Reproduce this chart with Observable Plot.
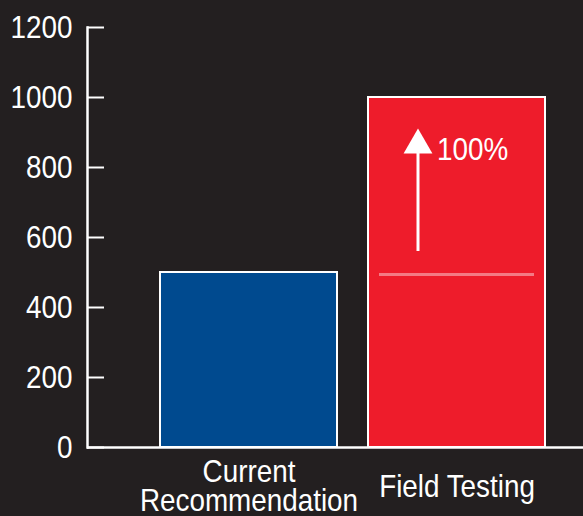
<!DOCTYPE html>
<html>
<head>
<meta charset="utf-8">
<script src="https://cdn.jsdelivr.net/npm/d3@7"></script>
<script src="https://cdn.jsdelivr.net/npm/@observablehq/plot@0.6"></script>
<style>
  html, body { margin: 0; padding: 0; background: #231f20; }
  #chart { width: 583px; height: 516px; overflow: hidden; }
</style>
</head>
<body>
<div id="chart"></div>
<script>
const categories = ["Current\nRecommendation", "Field Testing"];
const values = [500, 1000];
const barColors = ["#004a8f", "#ee1c2b"];
const yTicks = [0, 200, 400, 600, 800, 1000, 1200];
const previousLevel = 494;          // pink reference line in the Field Testing bar
const arrowFrom = 560, arrowTo = 840, arrowTip = 864; // arrow shaft start, head base, head centroid
const increaseLabel = "100%";
const labelValue = 850;

const bars = categories.map((c, i) => ({category: c, value: values[i], color: barColors[i]}));
const font = "'Liberation Sans', Arial, sans-serif";

const chart = Plot.plot({
  width: 583,
  height: 516,
  marginLeft: 87,
  marginRight: 0,
  marginTop: 27,
  marginBottom: 69,
  style: {background: "#231f20", color: "white", fontFamily: font, fontSize: "32px"},
  x: {domain: categories, range: [159, 546], paddingInner: 0.148, paddingOuter: 0, axis: null},
  y: {domain: [0, 1200], axis: null},
  marks: [
    Plot.barY(bars, {x: "category", y: "value", fill: "color", stroke: "white", strokeWidth: 2}),
    Plot.ruleY([previousLevel], {x1: () => categories[1], x2: () => categories[1], y: d => d, stroke: "#f47a84", strokeWidth: 3, insetLeft: 11, insetRight: 11}),
    Plot.ruleX([categories[1]], {y1: arrowFrom, y2: arrowTo, stroke: "white", strokeWidth: 3, dx: -39}),
    Plot.dot([categories[1]], {x: d => d, y: arrowTip, symbol: "triangle", r: 10.7, fill: "white", stroke: null, dx: -39}),
    Plot.text([increaseLabel], {x: () => categories[1], y: labelValue, text: d => d, fill: "white", textAnchor: "start", dx: -20, fontSize: 32, fontFamily: font}),
    Plot.ruleY([0], {stroke: "white", strokeWidth: 2.5}),
    Plot.frame({anchor: "left", stroke: "white", strokeWidth: 2.5}),
    Plot.axisY(yTicks, {tickSize: -17, tickPadding: 32, tickFormat: d => String(d), strokeWidth: 2, stroke: "white", fill: "white", fontSize: 32, fontFamily: font, label: null}),
    Plot.axisX({tickSize: 0, tickPadding: 40, lineAnchor: "middle", lineHeight: 0.9, fill: "white", fontSize: 32, fontFamily: font, label: null})
  ]
});
// condense the glyphs horizontally (the original uses a condensed face)
chart.querySelectorAll("text").forEach(t => {
  const tr = t.getAttribute("transform") || "";
  t.setAttribute("transform", (tr + " scale(0.87,1)").trim());
});
document.getElementById("chart").appendChild(chart);
</script>
</body>
</html>
